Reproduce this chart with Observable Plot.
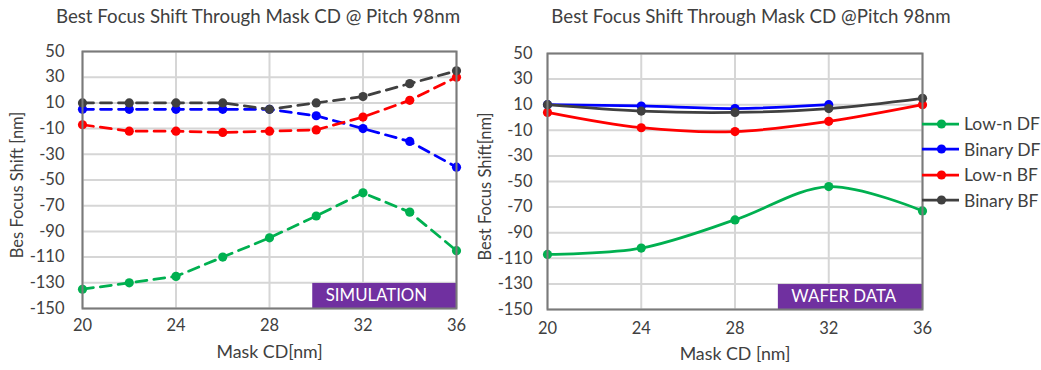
<!DOCTYPE html>
<html>
<head>
<meta charset="utf-8">
<script src="https://cdn.jsdelivr.net/npm/d3@7"></script>
<script src="https://cdn.jsdelivr.net/npm/@observablehq/plot@0.6"></script>
<style>
  body { margin: 0; background: #fff; font-family: Lato, "Open Sans", sans-serif; color: #404040; }
  #wrap { position: relative; width: 1041px; height: 370px; overflow: hidden; }
  .title { position: absolute; top: 5px; font-size: 18.7px; white-space: nowrap; transform: translateX(-50%); }
  #left, #right { position: absolute; top: 0; }
  #left { left: 0; }
  #right { left: 470px; }
  #legend { position: absolute; left: 922px; top: 111px; font-size: 17.5px; }
  .row { display: flex; align-items: center; height: 25.5px; }
  .row svg { display: block; margin-right: 4px; }
</style>
</head>
<body>
<div id="wrap">
  <div class="title" id="titleLeft" style="left:258px"></div>
  <div class="title" id="titleRight" style="left:751px"></div>
  <div id="left"></div>
  <div id="right"></div>
  <div id="legend"></div>
</div>
<script>
// Mask CD values (nm)
const maskCDSim = [20, 22, 24, 26, 28, 30, 32, 34, 36];
const maskCDWafer = [20, 24, 28, 32, 36];

// Series, in legend order
const seriesNames = ["Low-n DF", "Binary DF", "Low-n BF", "Binary BF"];
const seriesColors = ["#00B050", "#0000FF", "#FF0000", "#404040"];

// Simulated best focus shift (nm)
const simLowNDF   = [-135, -130, -125, -110, -95, -78, -60, -75, -105];
const simBinaryDF = [5, 5, 5, 5, 5, 0, -10, -20, -40];
const simLowNBF   = [-7, -12, -12, -13, -12, -11, -1, 12, 30];
const simBinaryBF = [10, 10, 10, 10, 5, 10, 15, 25, 35];

// Measured best focus shift on wafer (nm)
const waferLowNDF   = [-107, -102, -80, -54, -73];
const waferBinaryDF = [10, 9, 7, 10, null];
const waferLowNBF   = [4, -8, -11, -3, 10];
const waferBinaryBF = [10, 5, 4, 7, 15];

// Axis ticks
const xTicks = [20, 24, 28, 32, 36];
const yTicks = [50, 30, 10, -10, -30, -50, -70, -90, -110, -130, -150];

// Titles and labels
const titleLeft = "Best Focus Shift Through Mask CD @ Pitch 98nm";
const titleRight = "Best Focus Shift Through Mask CD @Pitch 98nm";
const xLabelLeft = "Mask CD[nm]";
const xLabelRight = "Mask CD [nm]";
const yLabelLeft = "Bes Focus Shift [nm]";
const yLabelRight = "Best Focus Shift[nm]";
const tagLeft = "SIMULATION";
const tagRight = "WAFER DATA";

function tidy(xs, columns) {
  const rows = [];
  columns.forEach((vals, i) => {
    vals.forEach((v, j) => {
      if (v != null) rows.push({series: seriesNames[i], x: xs[j], y: v});
    });
  });
  return rows;
}

const simData = tidy(maskCDSim, [simLowNDF, simBinaryDF, simLowNBF, simBinaryBF]);
const waferData = tidy(maskCDWafer, [waferLowNDF, waferBinaryDF, waferLowNBF, waferBinaryBF]);

const gridColor = "#d6d6d6";
const frameColor = "#7a7a7a";
const tagColor = "#7030A0";

function panel({data, width, marginLeft, marginRight, marginTop, marginBottom, dashed, curve,
                xLabel, yLabel, tag, tickPadY, tickPadX, yLabelDx, xLabelDy}) {
  return Plot.plot({
    width, height: 370,
    marginLeft, marginRight, marginTop, marginBottom,
    style: {fontFamily: "Lato, 'Open Sans', sans-serif", fontSize: "16.5px", color: "#404040", background: "transparent"},
    x: {domain: [20, 36]},
    y: {domain: [-150, 50]},
    color: {domain: seriesNames, range: seriesColors},
    marks: [
      Plot.gridX(xTicks, {stroke: gridColor, strokeOpacity: 1, strokeWidth: 2}),
      Plot.gridY(yTicks, {stroke: gridColor, strokeOpacity: 1, strokeWidth: 2}),
      Plot.rect([tag], {x1: 29.85, x2: 36, y1: -150, y2: -130.5, fill: tagColor}),
      Plot.text([tag], {x: 29.85, y: -140.25, dx: 13, text: d => d, textAnchor: "start", fill: "white", fontSize: 16.8}),
      Plot.line(data, {x: "x", y: "y", z: "series", stroke: "series", strokeWidth: 2.75,
                       strokeDasharray: dashed ? "11,7" : null, curve}),
      Plot.dot(data, {x: "x", y: "y", fill: "series", r: 4.6}),
      Plot.frame({stroke: frameColor, strokeWidth: 2}),
      Plot.axisX(xTicks, {tickSize: 0, tickPadding: tickPadX, label: null, tickFormat: d => String(d), fontSize: 16.5}),
      Plot.axisY(yTicks, {tickSize: 0, tickPadding: tickPadY, label: null, tickFormat: d => String(d), fontSize: 16.5}),
      Plot.text([xLabel], {frameAnchor: "bottom", dy: xLabelDy, text: d => d, fontSize: 17.8, fill: "#404040"}),
      Plot.text([yLabel], {frameAnchor: "left", textAnchor: "middle", dx: yLabelDx, dy: 5, rotate: -90,
                           text: d => d, fontSize: 16.5, fill: "#404040"})
    ]
  });
}

document.getElementById("titleLeft").textContent = titleLeft;
document.getElementById("titleRight").textContent = titleRight;

document.getElementById("left").append(panel({
  data: simData, width: 470, marginLeft: 82, marginRight: 14, marginTop: 51, marginBottom: 62,
  dashed: true, curve: "linear", xLabel: xLabelLeft, yLabel: yLabelLeft, tag: tagLeft,
  tickPadY: 18, tickPadX: 11, yLabelDx: -65, xLabelDy: 49
}));

document.getElementById("right").append(panel({
  data: waferData, width: 571, marginLeft: 77, marginRight: 119, marginTop: 53, marginBottom: 61,
  dashed: false, curve: "catmull-rom", xLabel: xLabelRight, yLabel: yLabelRight, tag: tagRight,
  tickPadY: 15, tickPadX: 13, yLabelDx: -62, xLabelDy: 50
}));

// Legend for both panels
const legend = d3.select("#legend");
seriesNames.forEach((name, i) => {
  const row = legend.append("div").attr("class", "row");
  const svg = row.append("svg").attr("width", 38).attr("height", 12);
  svg.append("line").attr("x1", 0).attr("x2", 37).attr("y1", 6).attr("y2", 6)
     .attr("stroke", seriesColors[i]).attr("stroke-width", 2.75);
  svg.append("circle").attr("cx", 19.5).attr("cy", 6).attr("r", 4.6).attr("fill", seriesColors[i]);
  row.append("span").text(name);
});
</script>
</body>
</html>
